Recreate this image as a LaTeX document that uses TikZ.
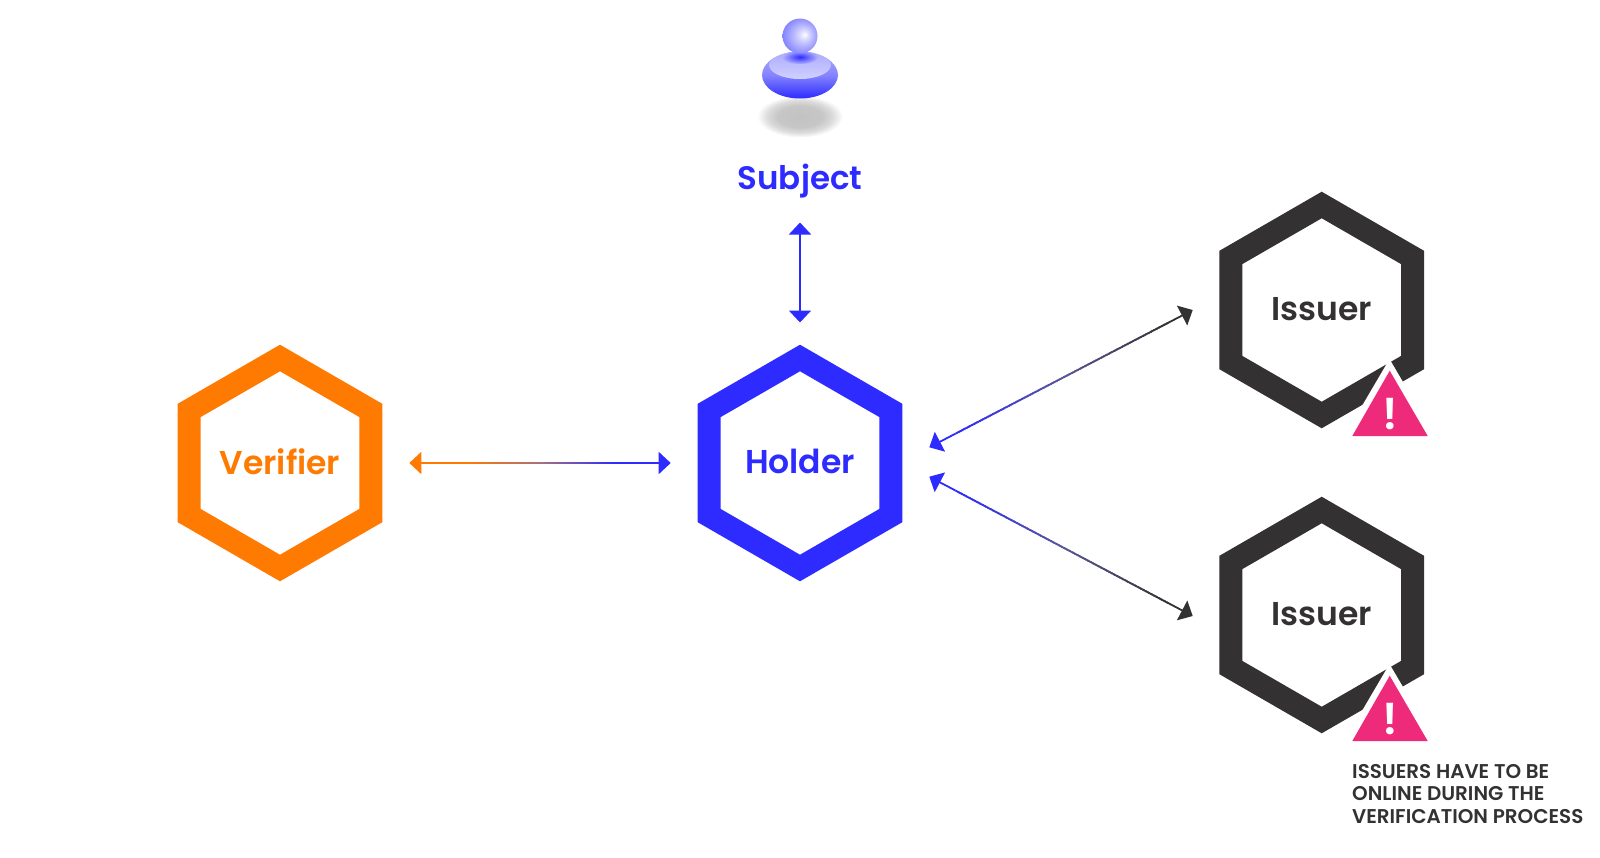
\documentclass[tikz,border=0pt]{standalone}
\usepackage{fontspec}
\setmainfont{Poppins}
\newfontfamily\popsemi{Poppins SemiBold}
\usetikzlibrary{arrows.meta,calc,shapes.geometric}
\definecolor{hblue}{HTML}{2D2BFF}
\definecolor{horange}{HTML}{FF7A00}
\definecolor{hdark}{HTML}{333132}
\definecolor{hpink}{HTML}{EE2A7B}
\definecolor{hmidcool}{HTML}{5A5896}
\definecolor{hmidwarm}{HTML}{A5707F}
\pgfdeclareradialshading{headball}{\pgfpoint{7bp}{2bp}}{%
  rgb(0bp)=(1,1,1);rgb(5bp)=(0.88,0.88,1);rgb(14bp)=(0.72,0.72,1);rgb(27bp)=(0.52,0.52,1);rgb(40bp)=(0.46,0.46,1)}
\pgfdeclareradialshading{softshadow}{\pgfpointorigin}{%
  rgb(0bp)=(0.76,0.76,0.76);rgb(13bp)=(0.78,0.78,0.78);rgb(19bp)=(0.86,0.86,0.86);rgb(25bp)=(1,1,1);rgb(40bp)=(1,1,1)}
\tikzset{
  hexnode/.style={regular polygon,regular polygon sides=6,shape border rotate=30,minimum size=210pt,inner sep=0pt,outer sep=0pt,line width=23pt,miter limit=10,draw=#1,text=#1,font=\popsemi\fontsize{33}{40}\selectfont},
  tiplook/.style={line width=1.8pt,-{Triangle[length=12pt,width=22pt]}},
  warntri/.style={fill=hpink},
  cuttri/.style={fill=white},
  banglabel/.style={text=white,font=\popsemi\fontsize{44}{44}\selectfont,inner sep=0pt},
  notelabel/.style={text=hdark,anchor=north west,align=left,inner sep=0pt,font=\popsemi\fontsize{19.9}{22.6}\selectfont}
}
% gradient connector: #1,#2 end coordinates, #3,#4 their colours, #5 colour at mid-way, #6 half-width (percent) of each blend
\newcommand{\gradconn}[6]{%
  \foreach \i in {10,...,89}{
    \pgfmathtruncatemacro{\mixa}{max(0,min(100,100*(\i-50+#6)/#6))}
    \pgfmathtruncatemacro{\mixb}{max(0,min(100,100*(\i-50)/#6))}
    \pgfmathsetmacro{\ta}{\i/100}
    \pgfmathsetmacro{\tb}{(\i+1.6)/100}
    \ifnum\i<50
      \draw[line width=1.8pt,color={#5!\mixa!#3}] ($(#1)!\ta!(#2)$) -- ($(#1)!\tb!(#2)$);
    \else
      \draw[line width=1.8pt,color={#4!\mixb!#5}] ($(#1)!\ta!(#2)$) -- ($(#1)!\tb!(#2)$);
    \fi
  }
  \draw[tiplook,color=#3] ($(#1)!0.1!(#2)$) -- (#1);
  \draw[tiplook,color=#4] ($(#1)!0.9!(#2)$) -- (#2);
}
\begin{document}
\begin{tikzpicture}[x=1pt,y=-1pt]
\useasboundingbox (0,0) rectangle (1600,857);

% subject figure
\shade[shading=softshadow] (800,116.5) ellipse [x radius=43,y radius=21];
\begin{scope}
  \clip (800,75) ellipse [x radius=38,y radius=23.5];
  \shade[top color=hblue!40!white,bottom color=hblue,middle color=hblue!58!white] (800,75) ellipse [x radius=38,y radius=23.5];
  \shade[top color=hblue!40!white,bottom color=hblue!22!white] (800,65) ellipse [x radius=31,y radius=14];
  \shade[inner color=hblue,outer color=hblue!36!white] (800,57) ellipse [x radius=18,y radius=7];
\end{scope}
\shade[shading=headball] (800,36) circle [radius=17.5];
\node[text=hblue,font=\popsemi\fontsize{32.5}{38}\selectfont,inner sep=0pt] (subject) at (800,181) {Subject};

% hexagons
\node[hexnode=horange] (verifier) at (280,463) {\raisebox{3.5pt}{Verifier}};
\node[hexnode=hblue] (holder) at (800,463) {\raisebox{3.5pt}{Holder}};
\node[hexnode=hdark] (issuerA) at (1321.7,310) {\raisebox{2pt}{Issuer}};
\node[hexnode=hdark] (issuerB) at (1321.7,615) {\raisebox{2pt}{Issuer}};

% warnings
\fill[cuttri] (1389.5,359) -- (1342,440) -- (1437,440) -- cycle;
\fill[warntri] (1389.7,370.7) -- (1352.3,436) -- (1427.7,436) -- cycle;
\node[banglabel] (bangA) at (1390,414) {!};
\fill[cuttri] (1389.5,664) -- (1342,745) -- (1437,745) -- cycle;
\fill[warntri] (1389.7,675.7) -- (1352.3,741) -- (1427.7,741) -- cycle;
\node[banglabel] (bangB) at (1390,719) {!};
\node[notelabel] (note) at (1352,764) {ISSUERS HAVE TO BE\\ONLINE DURING THE\\VERIFICATION PROCESS};

% connector ends
\coordinate (subjEnd) at (800,222.5);
\coordinate (holdTop) at (800,322.5);
\coordinate (verEnd) at (409.3,463);
\coordinate (holdLeft) at (670.7,463);
\coordinate (holdUp) at (929.3,447.3);
\coordinate (issAEnd) at (1192.7,310);
\coordinate (holdDown) at (929.3,476.7);
\coordinate (issBEnd) at (1192.7,616);

\draw[line width=1.8pt,{Triangle[length=12pt,width=22pt]}-{Triangle[length=12pt,width=22pt]},hblue] (subjEnd) -- (holdTop);
\gradconn{verEnd}{holdLeft}{horange}{hblue}{hmidwarm}{28}
\gradconn{holdUp}{issAEnd}{hblue}{hdark}{hmidcool}{40}
\gradconn{holdDown}{issBEnd}{hblue}{hdark}{hmidcool}{40}
\end{tikzpicture}
\end{document}
